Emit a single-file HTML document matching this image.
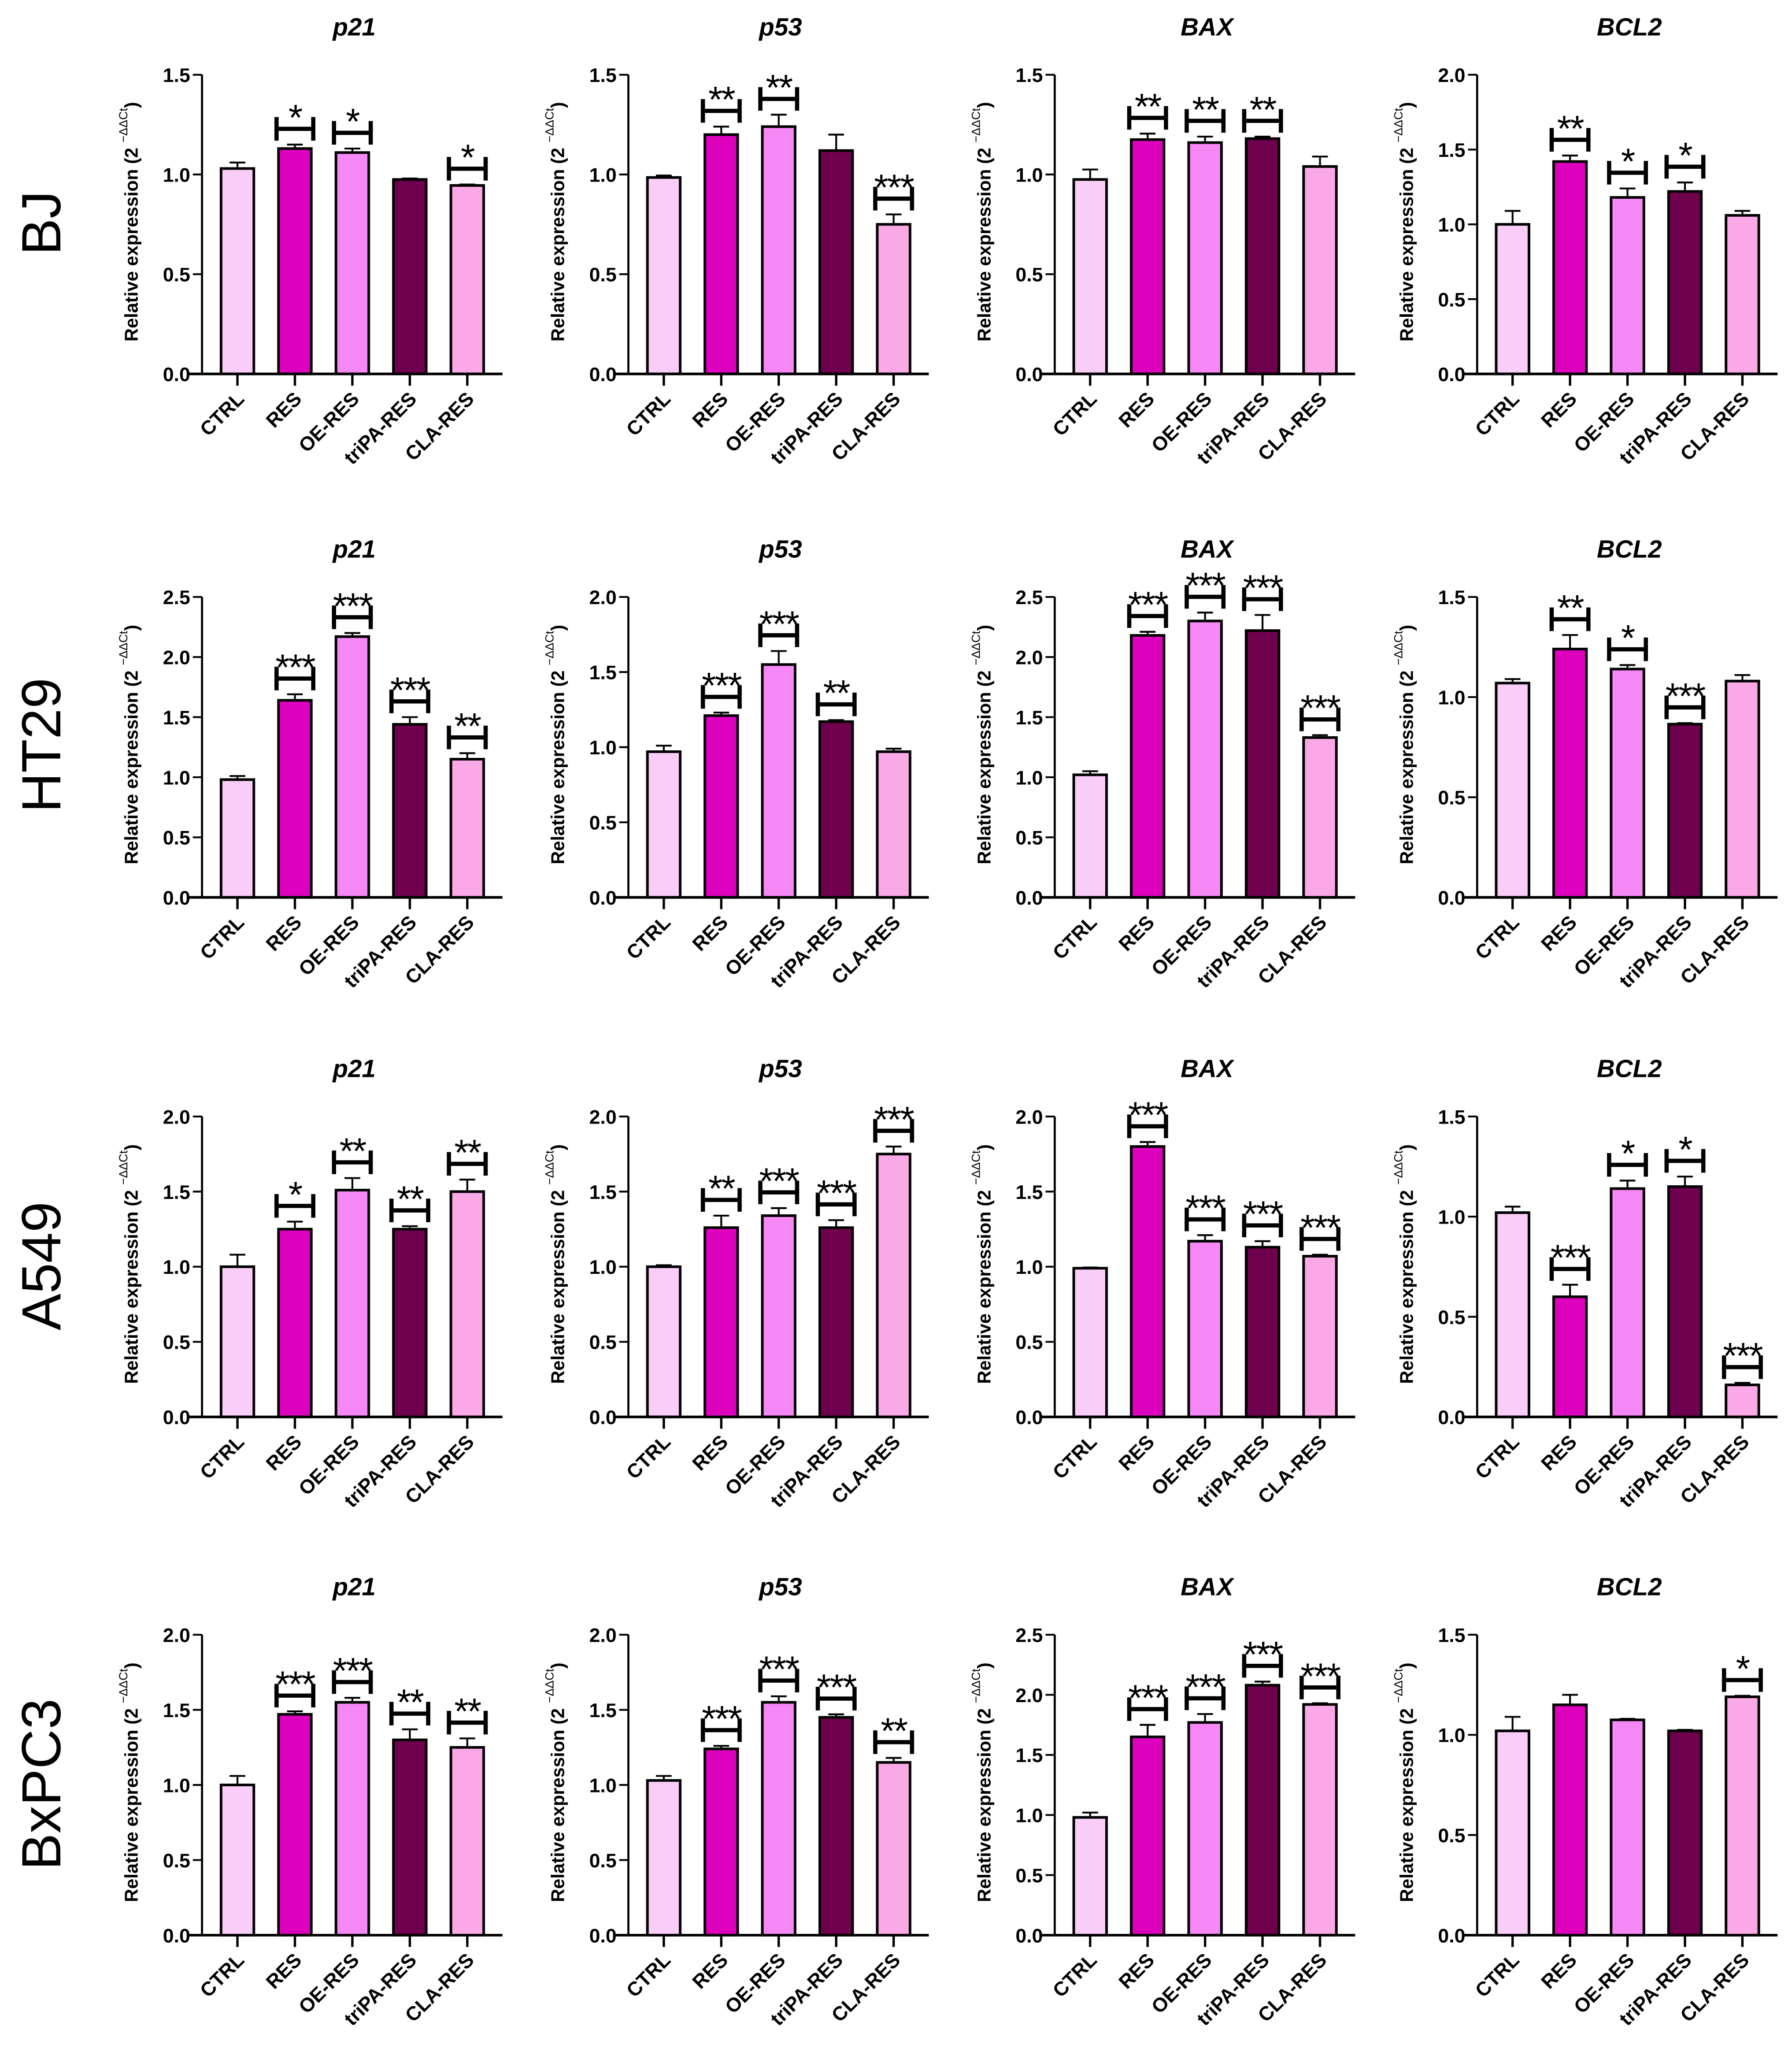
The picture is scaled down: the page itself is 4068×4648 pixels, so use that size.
<!DOCTYPE html>
<html><head><meta charset="utf-8"><style>
html,body{margin:0;padding:0;background:#fff;}
svg{display:block;}
text{font-family:"Liberation Sans",Arial,sans-serif;}
</style></head><body>
<svg id="fig" xmlns="http://www.w3.org/2000/svg" width="4068" height="4648" viewBox="0 0 1366 1561" preserveAspectRatio="none"></svg>
<script>
const categories = ["CTRL","RES","OE-RES","triPA-RES","CLA-RES"];
const colors = ["#f9cdf7","#dd00bd","#f688f6","#6e004d","#fba8e6"];
const rowNames = ["BJ","HT29","A549","BxPC3"];
const geneNames = ["p21","p53","BAX","BCL2"];
const yMax = [[1.5,1.5,1.5,2.0],[2.5,2.0,2.5,1.5],[2.0,2.0,2.0,1.5],[2.0,2.0,2.5,1.5]];
const means = [
 [[1.03,1.13,1.11,0.975,0.945],[0.985,1.20,1.24,1.12,0.75],[0.975,1.175,1.16,1.18,1.04],[1.0,1.42,1.18,1.22,1.06]],
 [[0.98,1.64,2.17,1.44,1.15],[0.97,1.21,1.55,1.17,0.97],[1.02,2.18,2.30,2.22,1.33],[1.07,1.24,1.14,0.865,1.08]],
 [[1.0,1.25,1.51,1.25,1.50],[1.0,1.26,1.34,1.26,1.75],[0.99,1.80,1.17,1.13,1.07],[1.02,0.60,1.14,1.15,0.16]],
 [[1.0,1.47,1.55,1.30,1.25],[1.03,1.24,1.55,1.45,1.15],[0.98,1.65,1.77,2.08,1.92],[1.02,1.15,1.075,1.02,1.19]]
];
const errors = [
 [[0.03,0.02,0.02,0.005,0.005],[0.01,0.04,0.06,0.08,0.05],[0.05,0.03,0.03,0.01,0.05],[0.09,0.04,0.06,0.06,0.03]],
 [[0.03,0.05,0.03,0.06,0.05],[0.04,0.02,0.09,0.01,0.02],[0.03,0.03,0.07,0.13,0.02],[0.02,0.07,0.02,0.005,0.03]],
 [[0.08,0.05,0.08,0.02,0.08],[0.01,0.08,0.05,0.05,0.05],[0.005,0.03,0.04,0.04,0.01],[0.03,0.06,0.04,0.05,0.01]],
 [[0.06,0.02,0.03,0.07,0.06],[0.03,0.02,0.04,0.02,0.03],[0.04,0.10,0.07,0.03,0.01],[0.07,0.05,0.005,0.005,0.005]]
];
const stars = [
 [["","*","*","","*"],["","**","**","","***"],["","**","**","**",""],["","**","*","*",""]],
 [["","***","***","***","**"],["","***","***","**",""],["","***","***","***","***"],["","**","*","***",""]],
 [["","*","**","**","**"],["","**","***","***","***"],["","***","***","***","***"],["","***","*","*","***"]],
 [["","***","***","**","**"],["","***","***","***","**"],["","***","***","***","***"],["","","","","*"]]
];

const NS = "http://www.w3.org/2000/svg";
const svg = document.getElementById("fig");
function mk(tag, attrs, parent){
  const e = document.createElementNS(NS, tag);
  for (const k in attrs) e.setAttribute(k, attrs[k]);
  (parent||svg).appendChild(e);
  return e;
}
const colAxisX = [154,479,804,1126];
const rowTop = [57,455,851,1246];
const rowZero = [285,684,1080,1475];
const rowLabelY = [170,568,965,1360];

rowNames.forEach((rn,r)=>{
  const t = mk("text",{x:46,y:rowLabelY[r],"font-size":42,"text-anchor":"middle",transform:`rotate(-90 46 ${rowLabelY[r]})`,fill:"#000"});
  
  
  t.textContent = rn;
});

for (let r=0;r<4;r++){
  for (let c=0;c<4;c++){
    const g = mk("g",{});
    
    
    const ax = colAxisX[c], top = rowTop[r], zero = rowZero[r], ym = yMax[r][c];
    const yS = v => zero - (v/ym)*(zero-top);
    const xS = i => ax + 27 + i*43.8;
    const tt = mk("text",{x:ax+116,y:top-30,"font-size":19,"font-weight":"bold","font-style":"italic","text-anchor":"middle"},g);
    
    
    tt.textContent = geneNames[c];
    const lx = ax-49, ly=(top+zero)/2-2;
    const yl = mk("text",{x:lx,y:ly,"font-size":14,"font-weight":"bold","text-anchor":"middle",transform:`rotate(-90 ${lx} ${ly})`},g);
    
    
    const s1 = mk("tspan",{},yl); s1.textContent = "Relative expression (2 ";
    const s2 = mk("tspan",{"font-size":9,"font-weight":"normal",dy:-8},yl); s2.textContent = "\u2212\u0394\u0394Ct";
    const s3 = mk("tspan",{dy:8},yl); s3.textContent = ")";
    for (let i=0;i<5;i++){
      const cx = xS(i), v = means[r][c][i], e = errors[r][c][i];
      const b = mk("rect",{x:cx-12.5,y:yS(v),width:25,height:zero-yS(v),fill:colors[i],stroke:"#000","stroke-width":2},g);
      
      
      const eb = mk("path",{d:`M${cx} ${yS(v)} V${yS(v+e)} M${cx-6} ${yS(v+e)} H${cx+6}`,stroke:"#000","stroke-width":1.4,fill:"none"},g);
      
      
      const st = stars[r][c][i];
      if (st){
        const bb = yS(v+e)-3, bt = bb-18, bm=(bb+bt)/2;
        const br = mk("path",{d:`M${cx-14} ${bt} V${bb} M${cx+14} ${bt} V${bb} M${cx-14} ${bm} H${cx+14}`,stroke:"#000","stroke-width":3.2,fill:"none"},g);
        
        
        const sx = mk("text",{x:cx,y:bt+10,"font-size":28,"text-anchor":"middle","letter-spacing":"-1"},g);
        
        
        sx.textContent = st;
      }
      mk("line",{x1:cx,y1:zero,x2:cx,y2:zero+9,stroke:"#000","stroke-width":1.8},g);
      const cl = mk("text",{x:cx+6,y:zero+20,"font-size":15,"font-weight":"bold","text-anchor":"end",transform:`rotate(-45 ${cx+6} ${zero+20})`},g);
      
      
      cl.textContent = categories[i];
    }
    const ya = mk("line",{x1:ax,y1:top,x2:ax,y2:zero,stroke:"#000","stroke-width":1.6},g);
    
    
    const xa = mk("line",{x1:ax-10,y1:zero,x2:ax+229,y2:zero,stroke:"#000","stroke-width":2},g);
    
    
    for (let v=0; v<=ym+1e-9; v+=0.5){
      const y = yS(v);
      mk("line",{x1:ax-7,y1:y,x2:ax,y2:y,stroke:"#000","stroke-width":1.4},g);
      const tl = mk("text",{x:ax-9,y:y+5.5,"font-size":15,"font-weight":"bold","text-anchor":"end"},g);
      
      
      tl.textContent = v.toFixed(1);
    }
  }
}
</script>
</body></html>
